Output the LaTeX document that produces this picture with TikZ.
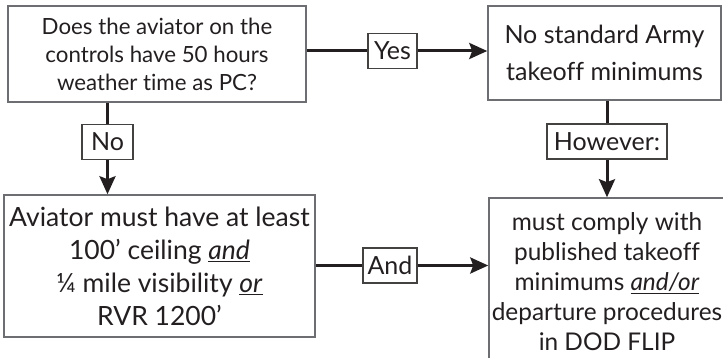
\documentclass[tikz,border=0pt]{standalone}
\usepackage{fontspec}
\setmainfont{Lato}[Ligatures={TeX,NoCommon}]
\usetikzlibrary{arrows.meta}
\definecolor{ink}{HTML}{231F20}
\definecolor{edge}{HTML}{6D6E71}
\newcommand{\ul}[1]{\underline{\textit{#1}}}
\tikzset{
  bigbox/.style={draw=edge, line width=1.5pt, rectangle, inner sep=0pt, align=center, text=ink},
  labbox/.style={draw=ink!85, line width=1.2pt, rectangle, inner sep=0pt, minimum height=35pt, text=ink, fill=white},
  conn/.style={draw=ink, line width=3pt},
  arr/.style={conn, -{Stealth[length=18pt,width=16pt,inset=3pt]}},
}
\begin{document}
\begin{tikzpicture}[x=1pt,y=-1pt]
\useasboundingbox (0,0) rectangle (723,358);
\begin{scope}
\clip (0,0) rectangle (723,358);
\node[bigbox, minimum width=298pt, minimum height=96pt, font=\fontsize{22.3}{28}\selectfont] (q) at (157,54)
  {Does the aviator on the\\controls have 50 hours\\weather time as PC?};
\node[bigbox, minimum width=233pt, minimum height=94pt, font=\fontsize{25}{37}\selectfont] (r) at (604.5,53)
  {No standard Army\\takeoff minimums};
\node[bigbox, minimum width=311pt, minimum height=142pt, font=\fontsize{26.5}{33}\selectfont] (a) at (159.5,266)
  {Aviator must have at least\\100' ceiling \ul{and}\\¼ mile visibility \ul{or}\\RVR 1200'};
\node[bigbox, minimum width=236pt, minimum height=168pt, font=\fontsize{24.4}{30}\selectfont] (c) at (607,282)
  {must comply with\\published takeoff\\minimums \ul{and/or}\\departure procedures\\in DOD FLIP};
\node[labbox, minimum width=49pt, font=\fontsize{25}{30}\selectfont] (yes) at (392.5,51) {Yes};
\node[labbox, minimum width=51pt, font=\fontsize{25}{30}\selectfont] (no) at (107.5,142) {No};
\node[labbox, minimum width=120pt, font=\fontsize{25}{30}\selectfont] (how) at (607,141.5) {However:};
\node[labbox, minimum width=54pt, font=\fontsize{25}{30}\selectfont] (and) at (390,265.5) {And};
\draw[conn] (q.east |- yes) -- (yes.west);
\draw[arr] (yes.east) -- (yes.east -| r.west);
\draw[conn] (no.north |- q.south) -- (no.north);
\draw[arr] (no.south) -- (no.south |- a.north);
\draw[conn] (how.north |- r.south) -- (how.north);
\draw[arr] (how.south) -- (how.south |- c.north);
\draw[conn] (a.east |- and) -- (and.west);
\draw[arr] (and.east) -- (and.east -| c.west);
\end{scope}
\end{tikzpicture}
\end{document}
